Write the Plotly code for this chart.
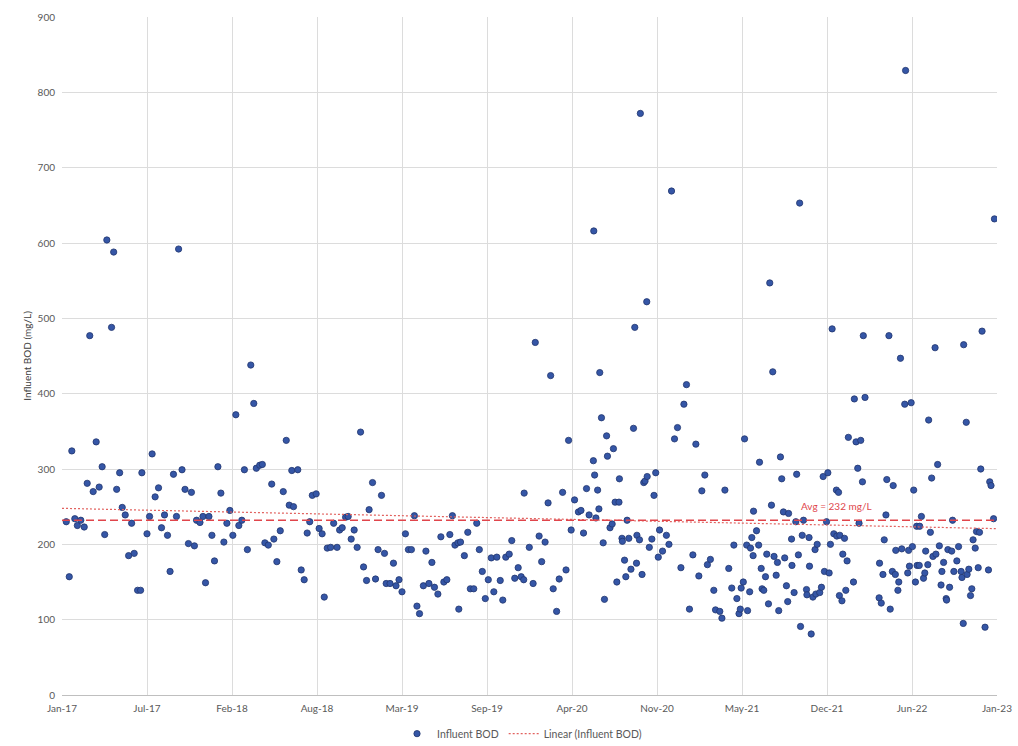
import numpy as np
import pandas as pd
import plotly.graph_objects as go

# ---- data ----
START_DATE = "2017-01-08"   # first date on the axis
# sample day (days after START_DATE) and influent BOD (mg/L)
DAYS = [10, 17, 23, 30, 36, 44, 52, 59, 65, 73, 80, 87, 94, 100, 105, 116, 121, 128, 135, 141,
        148, 156, 163, 169, 177, 184, 187, 199, 205, 211, 218, 226, 233, 240, 247, 253, 261, 268,
        273, 281, 288, 296, 303, 310, 315, 323, 330, 336, 344, 351, 357, 365, 372, 379, 386, 393,
        400, 407, 414, 421, 427, 434, 442, 449, 455, 463, 469, 475, 483, 491, 496, 503, 511, 518,
        525, 532, 538, 542, 552, 560, 567, 574, 580, 586, 595, 602, 609, 614, 621, 629, 636, 644,
        650, 656, 664, 670, 677, 684, 691, 699, 706, 713, 719, 727, 734, 740, 748, 755, 759, 768,
        776, 782, 789, 796, 804, 811, 818, 825, 831, 837, 846, 852, 859, 866, 872, 880, 887, 894,
        901, 908, 914, 920, 927, 929, 933, 942, 950, 956, 964, 971, 977, 984, 991, 998, 1005, 1011,
        1018, 1026, 1032, 1039, 1047, 1053, 1060, 1068, 1075, 1081, 1082, 1094, 1103, 1108, 1117,
        1123, 1131, 1138, 1144, 1150, 1158, 1164, 1172, 1180, 1186, 1192, 1200, 1209, 1215, 1221,
        1228, 1234, 1244, 1245, 1247, 1250, 1254, 1257, 1259, 1263, 1267, 1270, 1275, 1277, 1283,
        1288, 1291, 1295, 1299, 1304, 1305, 1311, 1312, 1317, 1320, 1323, 1327, 1332, 1338, 1341,
        1345, 1346, 1352, 1354, 1358, 1362, 1365, 1369, 1370, 1375, 1381, 1386, 1390, 1396, 1399,
        1406, 1415, 1421, 1427, 1434, 1441, 1449, 1456, 1462, 1469, 1477, 1484, 1491, 1498, 1505,
        1511, 1518, 1526, 1530, 1540, 1545, 1552, 1561, 1568, 1573, 1580, 1585, 1588, 1590, 1595,
        1598, 1603, 1605, 1610, 1612, 1615, 1618, 1619, 1626, 1631, 1633, 1637, 1639, 1643, 1647,
        1650, 1654, 1657, 1661, 1664, 1667, 1672, 1675, 1678, 1682, 1685, 1689, 1692, 1696, 1699,
        1701, 1708, 1709, 1714, 1718, 1720, 1724, 1727, 1729, 1733, 1736, 1743, 1744, 1749, 1750,
        1754, 1758, 1763, 1765, 1768, 1774, 1778, 1782, 1785, 1790, 1793, 1796, 1799, 1803, 1807,
        1813, 1814, 1818, 1820, 1821, 1826, 1828, 1832, 1835, 1838, 1841, 1853, 1855, 1859, 1863,
        1866, 1870, 1874, 1876, 1880, 1913, 1914, 1918, 1922, 1925, 1929, 1931, 1936, 1939, 1944,
        1946, 1951, 1952, 1957, 1959, 1963, 1966, 1973, 1975, 1980, 1982, 1984, 1988, 1991, 1994,
        1998, 2001, 2002, 2007, 2008, 2012, 2017, 2020, 2022, 2027, 2029, 2033, 2036, 2039, 2044,
        2046, 2050, 2054, 2058, 2060, 2064, 2070, 2071, 2074, 2078, 2083, 2085, 2088, 2095, 2099,
        2105, 2107, 2110, 2111, 2117, 2119, 2123, 2127, 2130, 2133, 2138, 2141, 2145, 2148, 2151,
        2154, 2161, 2169, 2172, 2175, 2181, 2183]
BOD = [230, 157, 324, 234, 225, 232, 223, 281, 477, 270, 336, 276, 303, 213, 604, 488, 588, 273, 295, 249,
       239, 185, 228, 188, 139, 139, 295, 214, 237, 320, 263, 275, 222, 239, 212, 164, 293, 237,
       592, 299, 273, 201, 269, 198, 232, 229, 237, 149, 237, 212, 178, 303, 268, 203, 228, 245,
       212, 372, 225, 232, 299, 193, 438, 387, 301, 305, 306, 202, 199, 280, 207, 177, 218, 270,
       338, 252, 298, 250, 299, 166, 153, 215, 230, 265, 267, 221, 214, 130, 195, 196, 228, 196,
       219, 222, 236, 237, 207, 219, 196, 349, 170, 152, 246, 282, 154, 193, 265, 188, 148, 148,
       175, 145, 153, 137, 214, 193, 193, 238, 118, 108, 145, 191, 148, 176, 143, 134, 210, 150,
       153, 213, 238, 199, 202, 114, 203, 185, 216, 141, 141, 228, 193, 164, 128, 153, 182, 137,
       183, 152, 126, 183, 187, 205, 155, 169, 157, 153, 268, 196, 148, 468, 211,
       177, 203, 255, 424, 141, 111, 154, 269, 166, 338, 219, 259, 243, 245, 215,
       274, 239, 311, 616, 292, 235, 272, 247, 428, 368, 202, 127, 344, 317, 222,
       227, 327, 256, 150, 256, 287, 208, 204, 179, 157, 232, 208, 167, 354, 488,
       175, 212, 206, 772, 160, 282, 284, 522, 290, 196, 207, 265, 295, 183, 219,
       191, 212, 200, 669, 340, 355, 169, 386, 412, 114, 186, 333, 158, 271, 292,
       173, 180, 139, 113, 111, 102, 272, 168, 142, 199, 128, 108, 114, 142, 150,
       340, 199, 112, 137, 195, 209, 185, 244, 218, 199, 309, 168, 141, 139, 157,
       187, 121, 547, 252, 429, 184, 159, 176, 112, 316, 287, 243, 182, 145, 124,
       241, 207, 172, 136, 230, 293, 186, 653, 91, 212, 232, 140, 133, 209, 171,
       81, 130, 193, 134, 200, 136, 143, 290, 164, 230, 295, 162, 200, 486, 214,
       272, 211, 269, 132, 212, 125, 187, 208, 139, 178, 342, 150, 393, 336, 301,
       228, 338, 283, 477, 395, 129, 175, 122, 160, 206, 239, 286, 477, 114, 164,
       278, 160, 192, 139, 150, 447, 194, 386, 829, 162, 192, 171, 388, 197, 272,
       150, 224, 172, 172, 224, 237, 155, 162, 191, 173, 365, 216, 288, 184, 461,
       187, 306, 198, 146, 164, 176, 128, 126, 193, 143, 191, 232, 164, 178, 197,
       164, 156, 95, 465, 362, 160, 167, 132, 141, 206, 195, 217, 169, 216, 300,
       483, 90, 166, 283, 278, 234, 632]

AVG_BOD = 232
TICK_LABELS = ["Jan-17", "Jul-17", "Feb-18", "Aug-18", "Mar-19", "Sep-19",
               "Apr-20", "Nov-20", "May-21", "Dec-21", "Jun-22", "Jan-23"]
TICK_STEP_DAYS = 199

# ---- build ----
start = pd.Timestamp(START_DATE)
days = np.array(DAYS, dtype=float)
dates = start + pd.to_timedelta(days, unit="D")

slope, intercept = np.polyfit(days, np.array(BOD, dtype=float), 1)
end_day = TICK_STEP_DAYS * (len(TICK_LABELS) - 1)
trend_days = np.array([0, end_day], dtype=float)
trend_dates = start + pd.to_timedelta(trend_days, unit="D")
trend_vals = intercept + slope * trend_days

tick_dates = [start + pd.Timedelta(days=TICK_STEP_DAYS * k) for k in range(len(TICK_LABELS))]
x_range = [start, start + pd.Timedelta(days=end_day)]

FONT = "Lato, 'Open Sans', sans-serif"
TXT = "#595959"

fig = go.Figure()
fig.add_trace(go.Scatter(
    x=dates, y=BOD, mode="markers", name="Influent BOD",
    marker=dict(size=6.3, color="#3556A6", line=dict(color="#22366E", width=0.8)),
))
fig.add_trace(go.Scatter(
    x=trend_dates, y=trend_vals, mode="lines", name="Linear (Influent BOD)",
    line=dict(color="#E2625F", width=1.2, dash="2px,2px"),
))
fig.add_trace(go.Scatter(
    x=x_range, y=[AVG_BOD, AVG_BOD], mode="lines", showlegend=False,
    line=dict(color="#E0454B", width=1.6, dash="8px,4px"),
    hoverinfo="skip",
))

fig.add_annotation(
    x=start + pd.Timedelta(days=1814), y=AVG_BOD, yshift=14,
    text=f"Avg = {AVG_BOD} mg/L", showarrow=False,
    font=dict(family=FONT, size=10, color="#E0454B"),
)

fig.update_layout(
    width=1018, height=746,
    margin=dict(l=62, r=21, t=17, b=51, autoexpand=False),
    paper_bgcolor="white", plot_bgcolor="white",
    font=dict(family=FONT, size=10, color=TXT),
    showlegend=True,
    legend=dict(orientation="h", x=0.492, xanchor="center", y=-0.057, yanchor="middle",
                font=dict(family=FONT, size=10.5, color=TXT), itemwidth=30,
                tracegroupgap=0),
)
fig.update_xaxes(
    range=x_range, tickvals=tick_dates, ticktext=TICK_LABELS,
    showgrid=True, gridcolor="#DCDCDC", gridwidth=1,
    showline=True, linecolor="#BFBFBF", linewidth=1,
    ticks="", tickfont=dict(size=10, color=TXT), zeroline=False,
    ticklabelstandoff=4,
)
fig.update_yaxes(
    range=[0, 900], dtick=100, tick0=0,
    showgrid=True, gridcolor="#DCDCDC", gridwidth=1,
    showline=False, zeroline=False, ticks="",
    tickfont=dict(size=10, color=TXT), ticklabelstandoff=6,
    title=dict(text="Influent BOD (mg/L)", font=dict(size=10, color="#404040"), standoff=4),
)

fig.write_html("out.html")
